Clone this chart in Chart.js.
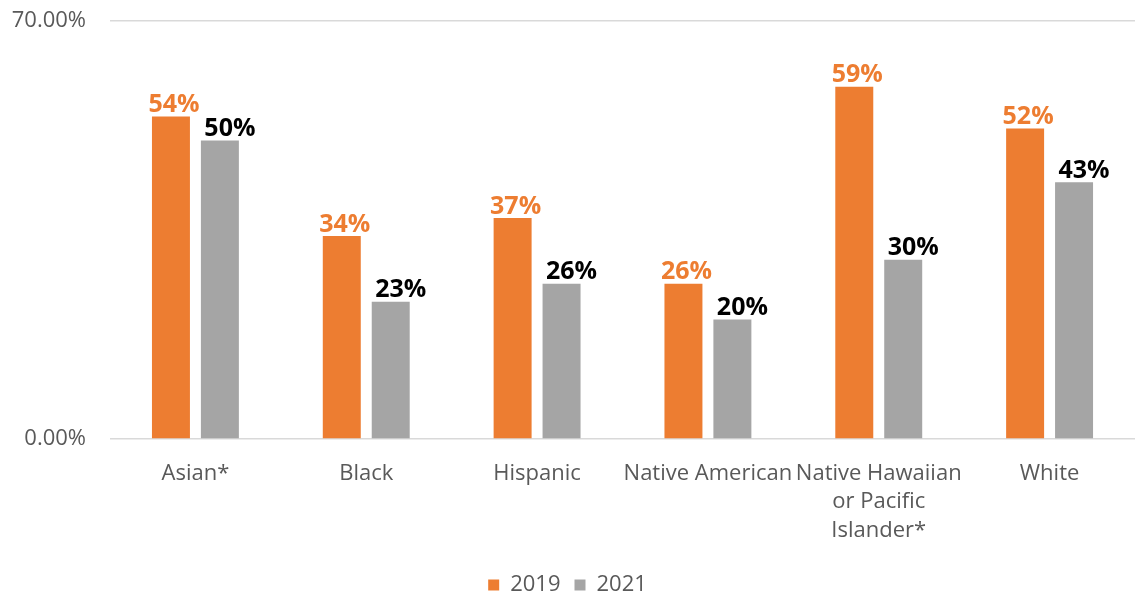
<!DOCTYPE html>
<html>
<head>
<meta charset="utf-8">
<script src="https://cdn.jsdelivr.net/npm/chart.js@4"></script>
<style>
  html, body { margin: 0; padding: 0; background: #fff; overflow: hidden; }
  #wrap { width: 1138px; height: 606px; }
</style>
</head>
<body>
<div id="wrap"><canvas id="chart"></canvas></div>
<script>
// Data
const categories = ['Asian*', 'Black', 'Hispanic', 'Native American', ['Native Hawaiian', 'or Pacific', 'Islander*'], 'White'];
const values2019 = [54, 34, 37, 26, 59, 52];
const values2021 = [50, 23, 26, 20, 30, 43];
const yTicks = [0, 70];

// Colors
const ORANGE = '#ED7D31';
const GRAY = '#A5A5A5';
const TEXT_GRAY = '#595959';
const FONT = "'Open Sans', 'Noto Sans', sans-serif";

/**
 * Draw value labels above each bar
 */
const valueLabels = {
    id: 'valueLabels',
    afterDatasetsDraw(chart) {
        const ctx = chart.ctx;
        ctx.save();
        ctx.font = 'bold 25px ' + FONT;
        ctx.textAlign = 'center';
        ctx.textBaseline = 'bottom';
        chart.data.datasets.forEach((ds, i) => {
            const meta = chart.getDatasetMeta(i);
            ctx.fillStyle = i === 0 ? ORANGE : '#000000';
            const shift = i === 0 ? 3 : 10;
            meta.data.forEach((bar, j) => {
                ctx.fillText(ds.data[j] + '%', bar.x + shift, bar.y + 1);
            });
        });
        ctx.restore();
    }
};

const ctx = document.getElementById('chart').getContext('2d');
new Chart(ctx, {
    type: 'bar',
    data: {
        labels: categories,
        datasets: [
            { label: '2019', data: values2019, backgroundColor: ORANGE },
            { label: '2021', data: values2021, backgroundColor: GRAY }
        ]
    },
    options: {
        responsive: true,
        maintainAspectRatio: false,
        animation: false,
        devicePixelRatio: 1,
        categoryPercentage: 0.573,
        barPercentage: 0.776,
        layout: { padding: { top: 21, right: 3, left: 0, bottom: 0 } },
        scales: {
            x: {
                grid: { display: false },
                border: { display: false },
                afterFit: scale => {
                    scale.height = 121;
                    scale.paddingLeft = 0;
                    scale.paddingRight = 0;
                },
                ticks: {
                    color: TEXT_GRAY,
                    font: { family: FONT, size: 22, lineHeight: 1.3 },
                    maxRotation: 0,
                    autoSkip: false,
                    padding: 12
                }
            },
            y: {
                min: 0,
                max: 70,
                afterBuildTicks: scale => {
                    scale.ticks = yTicks.map(v => ({ value: v }));
                },
                afterFit: scale => {
                    scale.width = 110;
                    scale.paddingTop = 0;
                    scale.paddingBottom = 0;
                },
                grid: { color: '#D9D9D9', lineWidth: 1.5, drawTicks: false },
                border: { display: false },
                ticks: {
                    color: TEXT_GRAY,
                    font: { family: FONT, size: 22 },
                    padding: 24,
                    callback: value => value.toFixed(2) + '%'
                }
            }
        },
        plugins: {
            legend: {
                position: 'bottom',
                labels: {
                    color: TEXT_GRAY,
                    font: { family: FONT, size: 22 },
                    boxWidth: 11,
                    boxHeight: 11,
                    padding: 14
                }
            },
            tooltip: { enabled: false }
        }
    },
    plugins: [valueLabels]
});
</script>
</body>
</html>
